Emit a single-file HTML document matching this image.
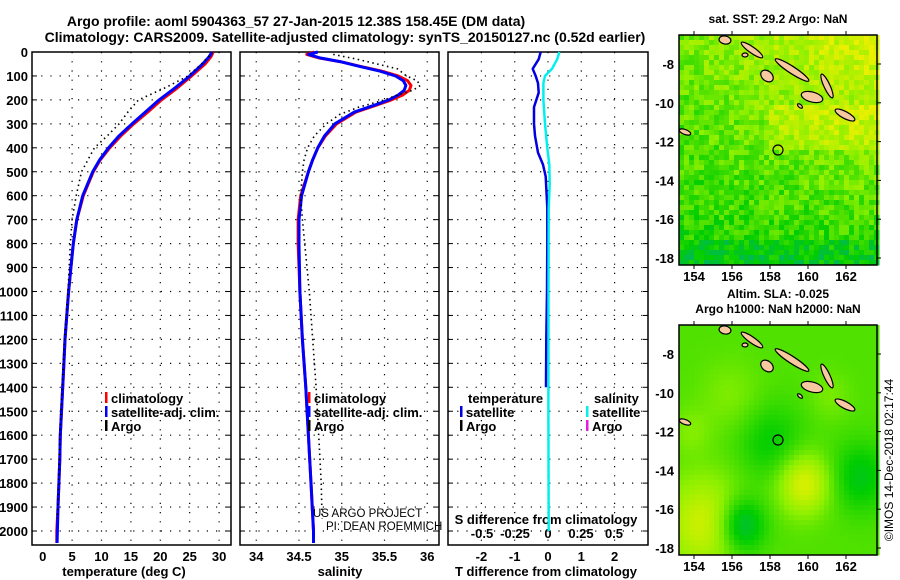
<!DOCTYPE html>
<html><head><meta charset="utf-8"><style>
body{margin:0;background:#fff}
svg{display:block;font-family:"Liberation Sans",sans-serif;font-weight:bold}
</style></head><body>
<svg id="chart" width="900" height="580" viewBox="0 0 900 580" xmlns="http://www.w3.org/2000/svg">
<rect width="900" height="580" fill="#fff"/>
<text x="296" y="26" font-size="14" text-anchor="middle">Argo profile: aoml 5904363_57 27-Jan-2015 12.38S 158.45E (DM data)</text>
<text x="345" y="42" font-size="14" text-anchor="middle">Climatology: CARS2009. Satellite-adjusted climatology: synTS_20150127.nc (0.52d earlier)</text>
<g id="g"></g>
</svg>
<script>
// ---- data ----
const depths=[0,20,50,100,150,200,250,300,350,400,450,500,600,700,800,900,1000,1100,1200,1300,1400,1500,1600,1700,1800,1900,2000,2050];
const tempSat=[28.8,28.3,27.2,25,22.5,19.8,17.5,15.2,13,11.2,9.7,8.5,6.8,5.8,5.2,4.8,4.4,4.1,3.8,3.6,3.4,3.2,3.0,2.9,2.75,2.6,2.5,2.45];
const tempClim=[29.0,28.6,27.6,25.3,22.9,20.2,17.9,15.5,13.3,11.4,9.8,8.6,6.9,5.8,5.2,4.8,4.4,4.1,3.8,3.6,3.4,3.2,3.0,2.9,2.75,2.6,2.4,2.4];
const argoDepths=[0,50,100,150,200,250,300,350,400,500,600,700,800,1000,1200,1400,1600,1800,1950];
const tempArgo=[28.9,27,24.7,20.8,16.3,14.5,13,11,8.8,6.6,5.7,5,4.7,4.3,3.7,3.3,2.9,2.7,2.5];
const salDepths=[0,10,25,40,60,80,100,120,140,160,180,200,220,250,300,350,400,450,500,600,700,800,1000,1200,1400,1600,1800,2000,2050];
const salSat=[34.72,34.61,34.75,34.98,35.21,35.45,35.63,35.72,35.75,35.73,35.66,35.55,35.4,35.15,34.92,34.8,34.72,34.66,34.61,34.53,34.5,34.5,34.51,34.54,34.58,34.61,34.64,34.67,34.67];
const salClim=[34.68,34.59,34.74,34.98,35.22,35.47,35.66,35.77,35.81,35.79,35.71,35.58,35.42,35.17,34.94,34.81,34.72,34.66,34.61,34.52,34.49,34.49,34.51,34.54,34.58,34.61,34.64,34.67,34.67];
const argoSalDepths=[10,30,70,100,120,140,160,180,200,230,260,300,350,400,450,500,600,700,1000,1200,1400,1600,1800,1950];
const salArgo=[34.9,35.18,35.65,35.76,35.88,35.92,35.83,35.65,35.5,35.2,34.98,34.82,34.68,34.6,34.56,34.54,34.52,34.54,34.62,34.66,34.7,34.73,34.76,34.77];
const diffDepths=[0,30,70,100,130,170,230,300,350,420,470,520,570,650,800,1000,1200,1400];
const tDiff=[-0.22,-0.28,-0.46,-0.37,-0.3,-0.28,-0.42,-0.42,-0.39,-0.3,-0.15,-0.07,-0.05,-0.02,-0.02,-0.03,-0.05,-0.06];
const sDiffDepths=[0,30,70,100,130,200,300,400,470,550,650,1000,1500,2000];
const sDiff=[0.086,0.07,0.03,-0.023,-0.035,-0.035,-0.023,-0.005,0.01,0.013,0.005,0.004,0.003,0.005];
const depthTicks=[0,100,200,300,400,500,600,700,800,900,1000,1100,1200,1300,1400,1500,1600,1700,1800,1900,2000];
const tempTicks=[0,5,10,15,20,25,30];
const salTicks=[34,34.5,35,35.5,36];
const tdTicks=[-2,-1,0,1,2];
const sdTicks=["-0.5","-0.25","0","0.25","0.5"];
const lonTicks=[154,156,158,160,162];
const latTicks=[-8,-10,-12,-14,-16,-18];

const NS='http://www.w3.org/2000/svg';
const G=document.getElementById('g');
function mk(tag,attrs,parent){const e=document.createElementNS(NS,tag);for(const k in attrs)e.setAttribute(k,attrs[k]);(parent||G).appendChild(e);return e;}
function txt(s,x,y,size,anchor,name,parent,extra){const e=mk('text',Object.assign({x:x,y:y,'font-size':size,'text-anchor':anchor||'middle'},extra||{}),parent);e.textContent=s;


return e;}
const yD=d=>52+d*0.2395;
const TOP=52,BOT=545;
const xT=t=>42.7+t*5.88;
const xS=s=>299+(s-34.5)*85.5;
const xTD=v=>548+v*33.3;
const xSD=v=>548+v*132;

function panel(x0,x1,name,gridX){
  const p=mk('g',{});
  
  
  depthTicks.forEach(d=>{const y=yD(d);if(d>0)mk('line',{x1:x0,x2:x1,y1:y,y2:y,stroke:'#000','stroke-width':1.2,'stroke-dasharray':'1.2 8'},p);
    mk('line',{x1:x0,x2:x0+5,y1:y,y2:y,stroke:'#000'},p);mk('line',{x1:x1-5,x2:x1,y1:y,y2:y,stroke:'#000'},p);});
  gridX.forEach(x=>{mk('line',{x1:x,x2:x,y1:TOP,y2:BOT,stroke:'#000','stroke-width':1.2,'stroke-dasharray':'1.2 8'},p);});
  mk('rect',{x:x0,y:TOP,width:x1-x0,height:BOT-TOP,fill:'none',stroke:'#000','stroke-width':1.5},p);
  return p;
}
function line(xs,ds,fx,color,w,name,dash){
  const pts=xs.map((v,i)=>fx(v).toFixed(1)+','+yD(ds[i]).toFixed(1)).join(' ');
  const a={points:pts,fill:'none',stroke:color,'stroke-width':w,'stroke-linejoin':'round'};
  if(dash)a['stroke-dasharray']=dash;
  const e=mk('polyline',a);
  
  
}
// panel 1
panel(32,231,'temperature-panel',tempTicks.filter(t=>t>0).map(xT));
depthTicks.forEach(d=>txt(String(d),28,yD(d)+5,13,'end','depth-tick-label'));
tempTicks.forEach(t=>txt(String(t),xT(t),561,13,'middle','temp-tick-label'));
txt('temperature (deg C)',124,576,13,'middle','temp-axis-title');
line(tempClim,depths,xT,'#f00',3,'temp-climatology-line');
line(tempSat,depths,xT,'#00f',3,'temp-satellite-line');
line(tempArgo,argoDepths,xT,'#000',1.6,'temp-argo-line','1.5 3.5');
// panel 2
panel(240,439,'salinity-panel',salTicks.map(xS));
salTicks.forEach(s=>txt(String(s),xS(s),561,13,'middle','sal-tick-label'));
txt('salinity',340,576,13,'middle','sal-axis-title');
line(salClim,salDepths,xS,'#f00',3,'sal-climatology-line');
line(salSat,salDepths,xS,'#00f',3,'sal-satellite-line');
line(salArgo,argoSalDepths,xS,'#000',1.6,'sal-argo-line','1.5 3.5');
txt('US ARGO PROJECT',313,517,11.5,'start','credit-project',null,{'font-weight':'normal'});
txt('PI: DEAN ROEMMICH',326,530,11.5,'start','credit-pi',null,{'font-weight':'normal'});
// panel 3
panel(448,648,'difference-panel',tdTicks.map(xTD));
tdTicks.forEach(t=>txt(String(t),xTD(t),561,13,'middle','tdiff-tick-label'));
txt('T difference from climatology',546,576,13,'middle','tdiff-axis-title');
txt('S difference from climatology',546,524,13,'middle','sdiff-axis-title');
const sdVals=sdTicks.map(Number);
sdTicks.forEach((t,i)=>{txt(t,xSD(sdVals[i]),538,13,'middle','sdiff-tick-label');});
line(tDiff,diffDepths,xTD,'#0000e0',2.5,'tdiff-satellite-line');
line(sDiff,sDiffDepths,xSD,'#00f0f0',2.5,'sdiff-satellite-line');
// legends
function leg(x,y,color,label,name){
  const g=mk('g',{});
  
  
  mk('rect',{x:x,y:y-11,width:2.5,height:11,fill:color},g);
  txt(label,x+6,y,13,'start',name+'-label',g);
}
leg(105,403,'#f00','climatology','legend-climatology');
leg(105,417,'#00f','satellite-adj. clim.','legend-satellite');
leg(105,431,'#000','Argo','legend-argo');
leg(308,403,'#f00','climatology','legend2-climatology');
leg(308,417,'#00f','satellite-adj. clim.','legend2-satellite');
leg(308,431,'#000','Argo','legend2-argo');
txt('temperature',468,403,13,'start','legend-temperature-heading');
leg(460,417,'#0000e0','satellite','legend-t-satellite');
leg(460,431,'#000','Argo','legend-t-argo');
txt('salinity',594,403,13,'start','legend-salinity-heading');
leg(586,417,'#00f0f0','satellite','legend-s-satellite');
leg(586,431,'#e020e0','Argo','legend-s-argo');

// ---- maps ----
function cmap(v){v=Math.max(0,Math.min(1,v));
  const st=[[0,[0,175,130]],[0.3,[0,205,0]],[0.65,[140,240,0]],[1,[235,240,0]]];
  for(let i=1;i<st.length;i++){if(v<=st[i][0]){const a=st[i-1],b=st[i],f=(v-a[0])/(b[0]-a[0]);
    return 'rgb('+a[1].map((c,k)=>Math.round(c+(b[1][k]-c)*f)).join(',')+')';}}
}
function hash(i,j){let h=(i*374761393+j*668265263)>>>0;h=(h^(h>>>13))*1274126177>>>0;return ((h^(h>>>16))>>>0)/4294967296;}
function map(y0,kind,title1,title2){
  const x0=679,x1=877,y1=y0+230;
  const g=mk('g',{});
  
  
  const cs=5;
  for(let j=0;j*cs<230;j++)for(let i=0;i*cs<198;i++){
    const u=i*cs/198,v=j*cs/230;let val;
    if(kind==='sst'){val=0.52+0.35*u*(1-v)+0.25*(0.35-v)+0.3*(hash(i,j)-0.5);if(v>0.3&&v<0.48&&u>0.45)val+=0.15;if(v>0.88)val-=0.12;}
    else{const b=(cx,cy,r,a)=>a*Math.exp(-((u-cx)**2+(v-cy)**2)/(r*r));
      val=0.5+b(0.12,0.85,0.2,0.4)+b(0.62,0.68,0.13,0.45)+b(0.3,0.86,0.12,-0.45)+b(0.9,0.65,0.15,-0.25)+b(0.45,0.5,0.17,-0.2)+b(0.25,0.3,0.15,0.12)+b(0.05,0.45,0.1,0.12)+b(0.75,0.3,0.1,0.1);}
    mk('rect',{x:x0+i*cs,y:y0+j*cs,width:cs+0.5,height:cs+0.5,fill:cmap(val)},g);
  }
  const isl=[[725,40,6,4,10],[752,50,13,3,35],[792,70,20,3.5,33],[767,76,7,5,40],[812,97,11,5,15],[827,86,13,3,65],[845,115,11,3.5,28],[685,132,6,2.5,20],[745,55,3,2,0],[800,106,3,1.5,40]];
  const off=y0-35;
  isl.forEach(s=>mk('ellipse',{cx:s[0],cy:s[1]+off,rx:s[2],ry:s[3],transform:`rotate(${s[4]} ${s[0]} ${s[1]+off})`,fill:'#f8c8a0',stroke:'#000','stroke-width':1.2},g));
  mk('circle',{cx:778,cy:150+off,r:5,fill:'none',stroke:'#000','stroke-width':1.2},g);
  mk('rect',{x:x0,y:y0,width:x1-x0,height:230,fill:'none',stroke:'#000','stroke-width':1.5},g);
  const lx=l=>694+(l-154)*19,ly=l=>(y0+29)+(-8-l)*19.4;
  lonTicks.forEach(l=>{mk('line',{x1:lx(l),x2:lx(l),y1:y0,y2:y0-4,stroke:'#000'},g);mk('line',{x1:lx(l),x2:lx(l),y1:y1,y2:y1+4,stroke:'#000'},g);txt(String(l),lx(l),y1+16,13,'middle','lon-tick-label',g);});
  latTicks.forEach(l=>{mk('line',{x1:x1,x2:x1+4,y1:ly(l),y2:ly(l),stroke:'#000'},g);txt(String(l),674,ly(l)+5,13,'end','lat-tick-label',g);});
  txt(title1,778,y0-(title2?27:12),12,'middle','map-title',g);
  if(title2)txt(title2,778,y0-12,12,'middle','map-subtitle',g);
}
map(35,'sst','sat. SST: 29.2 Argo: NaN');
map(325,'sla','Altim. SLA: -0.025','Argo h1000: NaN h2000: NaN');
txt('©IMOS 14-Dec-2018 02:17:44',893,460,12,'middle','imos-timestamp',null,{transform:'rotate(-90 893 460)','font-weight':'normal'});
</script>
</body></html>
